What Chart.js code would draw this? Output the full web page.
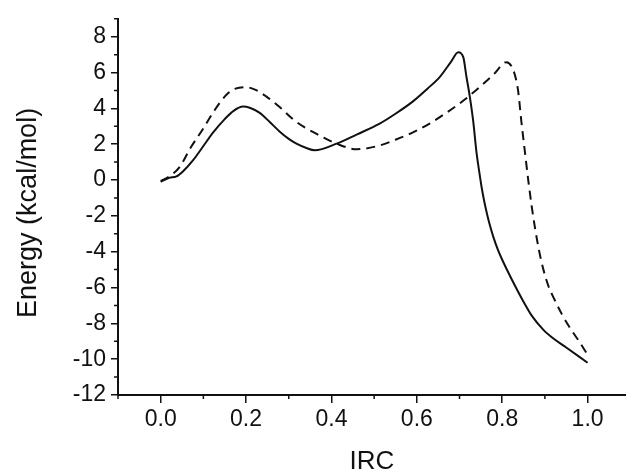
<!DOCTYPE html>
<html>
<head>
<meta charset="utf-8">
<script src="https://cdn.jsdelivr.net/npm/chart.js@4/dist/chart.umd.min.js"></script>
<style>
  html, body { margin: 0; padding: 0; background: #fff; overflow: hidden; }
  #wrap { width: 626px; height: 474px; position: relative; }
</style>
</head>
<body>
<div id="wrap"><canvas id="c"></canvas></div>
<script>
// ---- data ----
const ircSolid = [0.0, 0.02, 0.037, 0.052, 0.076, 0.1, 0.123, 0.15, 0.17, 0.193, 0.21, 0.232, 0.255, 0.279, 0.3,
  0.318, 0.34, 0.361, 0.412, 0.46, 0.513, 0.55, 0.591, 0.625, 0.654, 0.68, 0.697, 0.709, 0.716, 0.724, 0.732,
  0.74, 0.746, 0.752, 0.758, 0.765, 0.772, 0.779, 0.79, 0.8, 0.81, 0.83, 0.849, 0.87, 0.896, 0.92, 0.95, 1.0];
const energySolid = [-0.1, 0.12, 0.2, 0.48, 1.11, 1.9, 2.66, 3.4, 3.85, 4.1, 4.02, 3.75, 3.25, 2.7, 2.3,
  2.03, 1.8, 1.66, 2.03, 2.55, 3.15, 3.7, 4.39, 5.1, 5.76, 6.6, 7.13, 6.85, 5.8, 4.67, 3.3,
  1.5, 0.5, -0.43, -1.2, -1.95, -2.6, -3.16, -3.9, -4.45, -4.95, -5.9, -6.75, -7.6, -8.35, -8.85, -9.35, -10.2];

const ircDashed = [0.0, 0.02, 0.045, 0.07, 0.099, 0.125, 0.154, 0.175, 0.2, 0.225, 0.247, 0.28, 0.31, 0.34, 0.373,
  0.412, 0.459, 0.513, 0.55, 0.591, 0.63, 0.669, 0.71, 0.748, 0.78, 0.81, 0.826, 0.837, 0.845, 0.853, 0.861,
  0.869, 0.877, 0.886, 0.896, 0.908, 0.92, 0.94, 0.96, 0.98, 1.0];
const energyDashed = [-0.05, 0.2, 0.75, 1.8, 2.85, 3.85, 4.76, 5.1, 5.18, 5.0, 4.67, 4.05, 3.39, 2.9, 2.48,
  2.03, 1.72, 1.93, 2.25, 2.66, 3.15, 3.75, 4.45, 5.21, 5.9, 6.58, 6.13, 5.03, 3.25, 1.6, 0.0,
  -1.45, -2.7, -3.9, -4.95, -5.9, -6.55, -7.5, -8.3, -9.0, -9.75];

const xTicks = [0.0, 0.2, 0.4, 0.6, 0.8, 1.0];
const xMinorTicks = [-0.1, 0.1, 0.3, 0.5, 0.7, 0.9];
const yTicks = [-12, -10, -8, -6, -4, -2, 0, 2, 4, 6, 8];
const yMinorTicks = [-11, -9, -7, -5, -3, -1, 1, 3, 5, 7, 9];

const xTitle = 'IRC';
const yTitle = 'Energy (kcal/mol)';

const toPts = (xs, ys) => xs.map((x, i) => ({ x: x, y: ys[i] }));

const minorTicks = {
  id: 'minorTicks',
  beforeDraw(chart) {
    // nudge the y-axis title a little lower, like the reference
    const ys = chart.scales.y;
    if (ys && !ys._titleShifted) {
      const orig = ys.drawTitle;
      ys.drawTitle = function () {
        this.ctx.save();
        this.ctx.translate(0, 6);
        orig.apply(this, arguments);
        this.ctx.restore();
      };
      ys._titleShifted = true;
    }
  },
  afterDraw(chart) {
    const ctx = chart.ctx;
    const xs = chart.scales.x, ys = chart.scales.y;
    const area = chart.chartArea;
    ctx.save();
    ctx.strokeStyle = '#111';
    ctx.lineWidth = 1.5;
    ctx.beginPath();
    xMinorTicks.forEach(v => {
      const px = xs.getPixelForValue(v);
      ctx.moveTo(px, area.bottom);
      ctx.lineTo(px, area.bottom + 4);
    });
    yMinorTicks.forEach(v => {
      const py = ys.getPixelForValue(v);
      ctx.moveTo(area.left, py);
      ctx.lineTo(area.left - 4, py);
    });
    ctx.stroke();
    ctx.restore();
  }
};

new Chart(document.getElementById('c'), {
  type: 'scatter',
  data: {
    datasets: [
      {
        label: 'solid',
        data: toPts(ircSolid, energySolid),
        showLine: true,
        borderColor: '#111',
        borderWidth: 2,
        pointRadius: 0,
        cubicInterpolationMode: 'monotone'
      },
      {
        label: 'dashed',
        data: toPts(ircDashed, energyDashed),
        showLine: true,
        borderColor: '#111',
        borderWidth: 2,
        borderDash: [9, 6],
        pointRadius: 0,
        cubicInterpolationMode: 'monotone'
      }
    ]
  },
  options: {
    responsive: true,
    maintainAspectRatio: false,
    animation: false,
    layout: { padding: { top: 11, right: 0, left: 0, bottom: 0 } },
    plugins: { legend: { display: false }, tooltip: { enabled: false } },
    scales: {
      x: {
        type: 'linear',
        min: -0.1,
        max: 1.09,
        afterBuildTicks: s => { s.ticks = xTicks.map(v => ({ value: v })); },
        afterFit: s => { s.height = 79; },
        ticks: {
          color: '#111',
          font: { family: 'Liberation Sans, Arial', size: 23 },
          padding: 3,
          maxRotation: 0,
          autoSkip: false,
          callback: v => Number(v).toFixed(1)
        },
        grid: { drawOnChartArea: false, drawTicks: true, tickLength: 8, color: '#111', lineWidth: 1.5 },
        border: { display: true, color: '#111', width: 2 },
        title: {
          display: true,
          text: xTitle,
          color: '#111',
          font: { family: 'Liberation Sans, Arial', size: 26, lineHeight: 0.9 },
          padding: { top: 0, bottom: 0 }
        }
      },
      y: {
        type: 'linear',
        min: -12,
        max: 9,
        afterBuildTicks: s => { s.ticks = yTicks.map(v => ({ value: v })); },
        afterFit: s => { s.width = 118; },
        ticks: {
          color: '#111',
          font: { family: 'Liberation Sans, Arial', size: 23 },
          padding: 5,
          autoSkip: false,
          callback: v => String(v)
        },
        grid: { drawOnChartArea: false, drawTicks: true, tickLength: 7, color: '#111', lineWidth: 1.5 },
        border: { display: true, color: '#111', width: 2 },
        title: {
          display: true,
          text: yTitle,
          color: '#111',
          font: { family: 'Liberation Sans, Arial', size: 27 },
          padding: { top: 12, bottom: 0 }
        }
      }
    }
  },
  plugins: [minorTicks]
});
</script>
</body>
</html>
